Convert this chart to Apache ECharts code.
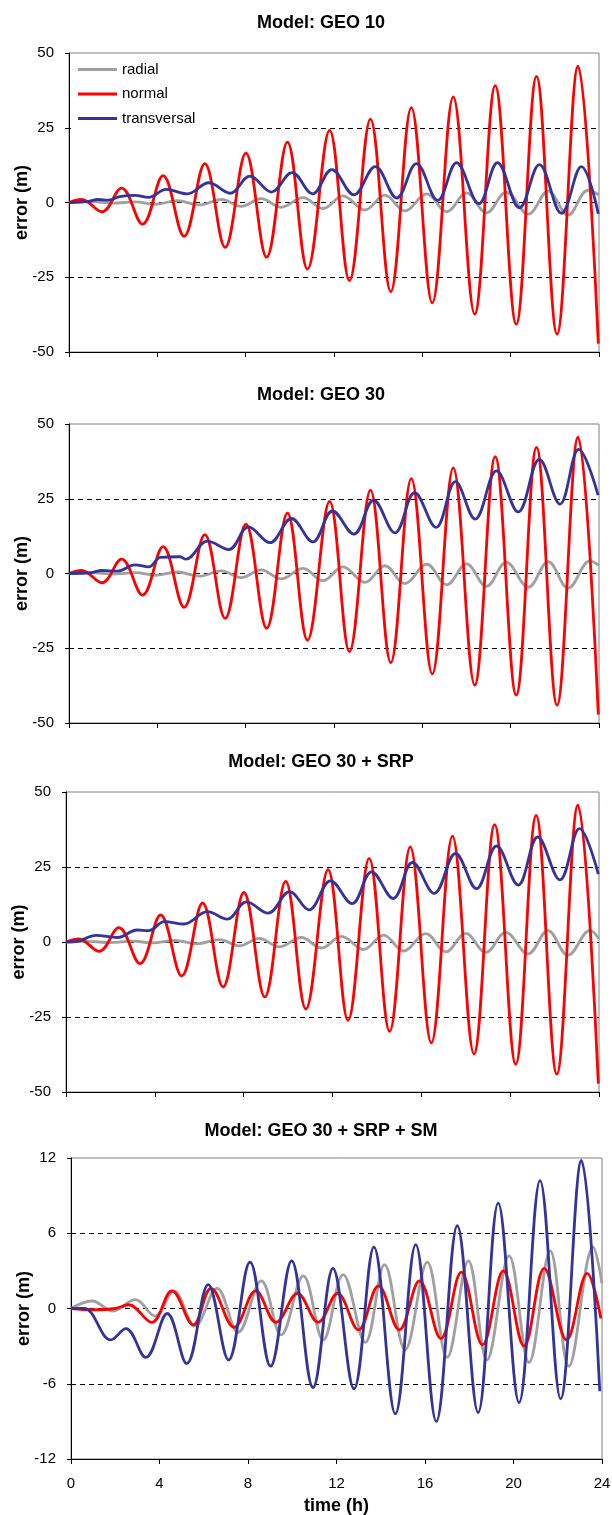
<!DOCTYPE html>
<html><head><meta charset="utf-8">
<script src="https://cdn.jsdelivr.net/npm/echarts@6/dist/echarts.min.js"></script>
<style>html,body{margin:0;padding:0;background:#fff}#c{width:612px;height:1515px}</style>
</head><body><div id="c"></div>
<script>
// ---------- DATA (time in h, error in m) ----------
const panelTitles = ['Model: GEO 10', 'Model: GEO 30', 'Model: GEO 30 + SRP', 'Model: GEO 30 + SRP + SM'];
const seriesNames = ['radial', 'normal', 'transversal'];
const xTickRange = [0, 24, 4];          // min, max, step
const yTickRangeBig = [-50, 50, 25];
const yTickRangeSmall = [-12, 12, 6];

// Panel 1: GEO 10
const radialGeo10 = [[0,0],[1.0,0.3],[2.0,-0.2],[3.0,0.2],[3.9,-0.6],[4.9,0.6],[5.9,-0.8],[6.9,1.0],[7.8,-1.3],[8.7,1.3],[9.6,-1.6],[10.6,1.6],[11.5,-2.0],[12.4,2.2],[13.4,-2.5],[14.3,2.5],[15.2,-2.8],[16.2,2.9],[17.1,-3.1],[18.0,3.2],[18.9,-3.5],[19.8,3.5],[20.8,-3.9],[21.7,3.8],[22.6,-4.2],[23.5,4.1],[24,2.5]];
const normalGeo10 = [[0,0],[0.57,1.0],[1.49,-3.1],[2.38,4.8],[3.33,-7.2],[4.26,9.0],[5.21,-11.3],[6.15,13.0],[7.07,-15.0],[8.01,16.5],[8.95,-18.3],[9.89,20.2],[10.8,-22.3],[11.8,24.1],[12.7,-26.1],[13.65,27.9],[14.57,-29.8],[15.5,31.7],[16.45,-33.6],[17.4,35.3],[18.37,-37.3],[19.3,39.1],[20.25,-40.7],[21.17,42.2],[22.1,-44.0],[23.05,45.6],[23.97,-47.2]];
const transGeo10 = [[0,0],[0.9,0.4],[1.3,1.0],[1.8,0.8],[2.3,2.0],[3.0,2.4],[3.6,1.7],[4.4,4.4],[5.35,2.9],[6.33,6.6],[7.3,3.1],[8.19,8.8],[9.17,3.5],[10.1,10.0],[11.03,2.9],[11.9,11.0],[12.9,2.6],[13.87,12.0],[14.84,1.5],[15.73,13.0],[16.7,0.7],[17.55,13.3],[18.56,-0.4],[19.4,13.3],[20.4,-1.8],[21.3,12.7],[22.3,-3.6],[23.2,12.0],[23.97,-3.8]];

// Panel 2: GEO 30
const radialGeo30 = [[0,0],[1.0,0.3],[2.0,-0.2],[3.0,0.3],[3.9,-0.6],[4.9,0.5],[5.9,-0.9],[6.9,0.9],[7.8,-1.4],[8.7,1.2],[9.6,-1.8],[10.6,1.7],[11.5,-2.4],[12.4,2.2],[13.4,-3.0],[14.3,2.6],[15.2,-3.4],[16.2,3.1],[17.1,-3.8],[18.0,3.2],[18.9,-4.3],[19.8,3.7],[20.8,-4.6],[21.7,4.0],[22.6,-4.9],[23.6,4.2],[24,2.6]];
const normalGeo30 = [[0,0],[0.57,1.0],[1.49,-3.1],[2.38,4.8],[3.33,-7.2],[4.26,9.0],[5.21,-11.3],[6.15,13.0],[7.07,-15.0],[8.01,16.5],[8.95,-18.3],[9.89,20.2],[10.8,-22.3],[11.8,24.1],[12.7,-26.1],[13.65,27.9],[14.57,-29.8],[15.5,31.7],[16.45,-33.6],[17.4,35.3],[18.37,-37.3],[19.3,39.1],[20.25,-40.7],[21.17,42.2],[22.1,-44.0],[23.05,45.6],[23.97,-47.2]];
const transGeo30 = [[0,0],[0.96,0.2],[1.49,1.0],[2.19,0.8],[2.99,2.9],[3.61,2.2],[4.14,5.4],[5.03,5.6],[5.29,4.8],[6.27,10.8],[7.24,8.0],[8.12,15.6],[9.1,10.3],[10.07,18.4],[11.04,10.6],[11.93,20.9],[12.9,13.2],[13.79,24.5],[14.76,13.6],[15.65,27.0],[16.62,15.4],[17.5,30.7],[18.39,18.2],[19.36,34.3],[20.34,20.6],[21.3,38.2],[22.23,23.2],[23.08,41.5],[23.96,26.2]];

// Panel 3: GEO 30 + SRP
const radialSRP = [[0,0],[1.0,0.2],[2.0,-0.2],[3.0,0.3],[3.9,-0.3],[4.9,0.5],[5.9,-0.6],[6.9,0.8],[7.8,-1.3],[8.7,1.2],[9.6,-1.6],[10.6,1.5],[11.5,-2.0],[12.4,1.9],[13.4,-2.5],[14.3,2.3],[15.2,-3.0],[16.2,2.8],[17.1,-3.3],[18.0,2.9],[18.9,-3.5],[19.8,3.2],[20.8,-4.0],[21.7,3.8],[22.6,-4.4],[23.6,3.9],[24,1.0]];
const normalSRP = [[0,0],[0.57,1.0],[1.49,-3.1],[2.38,4.8],[3.33,-7.2],[4.26,9.0],[5.21,-11.3],[6.15,13.0],[7.07,-15.0],[8.01,16.5],[8.95,-18.3],[9.89,20.2],[10.8,-22.3],[11.8,24.1],[12.7,-26.1],[13.65,27.9],[14.57,-29.8],[15.5,31.7],[16.45,-33.6],[17.4,35.3],[18.37,-37.3],[19.3,39.1],[20.25,-40.7],[21.17,42.2],[22.1,-44.0],[23.05,45.6],[23.97,-47.2]];
const transSRP = [[0,0],[0.5,0.2],[1.35,2.2],[2.32,1.5],[3.2,4.0],[3.73,3.8],[4.43,6.8],[5.31,6.0],[6.37,10.1],[7.25,7.6],[8.13,13.4],[9.1,9.6],[10.07,16.8],[10.94,10.7],[11.91,20.4],[12.88,12.8],[13.76,23.4],[14.73,14.5],[15.6,26.5],[16.58,16.2],[17.54,29.5],[18.48,17.8],[19.39,32.0],[20.36,19.0],[21.24,35.0],[22.24,20.7],[23.12,37.8],[23.97,22.6]];

// Panel 4: GEO 30 + SRP + SM
const radialSM = [[0,0],[0.95,0.6],[1.9,-0.2],[2.9,0.7],[3.8,-0.6],[4.65,1.4],[5.6,-1.4],[6.6,1.6],[7.55,-1.9],[8.6,2.2],[9.5,-2.1],[10.5,2.6],[11.4,-2.5],[12.3,2.7],[13.3,-2.7],[14.17,3.5],[15.1,-3.3],[16.1,3.7],[17.0,-3.9],[17.96,3.8],[18.8,-4.1],[19.8,4.2],[20.7,-4.3],[21.66,4.6],[22.5,-4.6],[23.6,4.9],[24,2.0]];
const normalSM = [[0,0],[1.0,-0.1],[2.0,0.0],[2.6,0.3],[3.65,-1.1],[4.56,1.4],[5.53,-1.3],[6.33,1.6],[7.38,-1.5],[8.35,1.4],[9.27,-1.1],[10.24,1.2],[11.17,-1.1],[12.05,1.2],[12.99,-1.7],[13.9,1.8],[14.84,-1.7],[15.75,2.2],[16.72,-2.4],[17.64,2.9],[18.6,-2.9],[19.54,3.0],[20.48,-3.0],[21.39,3.2],[22.4,-2.5],[23.33,2.8],[23.95,-0.8]];
const transSM = [[0,0],[0.6,0.0],[1.8,-2.5],[2.48,-1.6],[3.38,-3.9],[4.35,-0.4],[5.23,-4.4],[6.2,1.9],[7.12,-4.1],[8.09,3.7],[9.02,-4.6],[9.97,3.8],[10.94,-6.3],[11.84,3.2],[12.79,-6.4],[13.69,4.9],[14.66,-8.4],[15.58,5.1],[16.51,-9.0],[17.46,6.6],[18.4,-8.3],[19.31,8.4],[20.25,-7.5],[21.2,10.2],[22.13,-7.2],[23.07,11.8],[23.9,-6.6]];

const panelData = [
  [radialGeo10, normalGeo10, transGeo10],
  [radialGeo30, normalGeo30, transGeo30],
  [radialSRP, normalSRP, transSRP],
  [radialSM, normalSM, transSM]
];
const panelYRange = [yTickRangeBig, yTickRangeBig, yTickRangeBig, yTickRangeSmall];

// ---------- LAYOUT / STYLE ----------
const FONT = '"Liberation Sans", Arial, sans-serif';
const colors = ['#a0a0a0', '#ff0000', '#333399'];
const gridBoxes = [
  {left: 69, top: 53, width: 530, height: 299},
  {left: 69, top: 424, width: 530, height: 299},
  {left: 66, top: 792, width: 533, height: 300},
  {left: 71, top: 1158, width: 531, height: 301}
];
const titleTops = [9, 381, 748, 1117];

const chart = echarts.init(document.getElementById('c'), null, {renderer: 'canvas'});

const option = {
  animation: false,
  backgroundColor: '#fff',
  textStyle: {fontFamily: FONT},
  title: panelTitles.map((t, i) => ({
    text: t, left: 316, top: titleTops[i], textAlign: 'center',
    textStyle: {fontFamily: FONT, fontSize: 18, fontWeight: 'bold', color: '#000'}
  })),
  legend: {
    data: seriesNames, orient: 'vertical', left: 71, top: 56,
    padding: [6, 14, 8, 7], backgroundColor: '#fff',
    icon: 'rect', itemWidth: 39, itemHeight: 3, itemGap: 9.5,
    textStyle: {fontFamily: FONT, fontSize: 15, color: '#000', padding: [0, 0, 0, 0]},
    z: 10
  },
  grid: gridBoxes.map(g => Object.assign({show: true, containLabel: false, outerBoundsMode: 'none', borderColor: '#808080', borderWidth: 1, backgroundColor: 'transparent'}, g)),
  xAxis: gridBoxes.map((g, i) => ({
    type: 'value', gridIndex: i, min: xTickRange[0], max: xTickRange[1], interval: xTickRange[2],
    axisLine: {show: true, onZero: false, lineStyle: {color: '#000', width: 1}},
    axisTick: {show: true, inside: false, length: 5, lineStyle: {color: '#000'}},
    axisLabel: {show: i === 3, fontFamily: FONT, fontSize: 15, color: '#000', margin: 17},
    splitLine: {show: false},
    name: i === 3 ? 'time (h)' : '', nameLocation: 'middle', nameGap: 38, nameMoveOverlap: false,
    nameTextStyle: {fontFamily: FONT, fontSize: 18, fontWeight: 'bold', color: '#000'}
  })),
  yAxis: gridBoxes.map((g, i) => ({
    type: 'value', gridIndex: i, min: panelYRange[i][0], max: panelYRange[i][1], interval: panelYRange[i][2],
    axisLine: {show: true, lineStyle: {color: '#000', width: 1}},
    axisTick: {show: true, inside: false, length: 4, lineStyle: {color: '#000'}},
    axisLabel: {fontFamily: FONT, fontSize: 15, color: '#000', margin: 15},
    splitLine: {show: true, showMinLine: false, showMaxLine: false, lineStyle: {color: '#000', width: 1, type: [5, 4]}},
    name: 'error (m)', nameLocation: 'middle', nameGap: 38, nameMoveOverlap: false,
    nameTextStyle: {fontFamily: FONT, fontSize: 18, fontWeight: 'bold', color: '#000'}
  })),
  series: []
};

panelData.forEach((set, p) => {
  set.forEach((data, s) => {
    option.series.push({
      name: seriesNames[s], type: 'line', xAxisIndex: p, yAxisIndex: p,
      data: data, showSymbol: false, symbol: 'none', smooth: 0.38,
      lineStyle: {color: colors[s], width: 2.8},
      itemStyle: {color: colors[s]},
      emphasis: {disabled: true}
    });
  });
});

chart.setOption(option);
</script>
</body></html>
